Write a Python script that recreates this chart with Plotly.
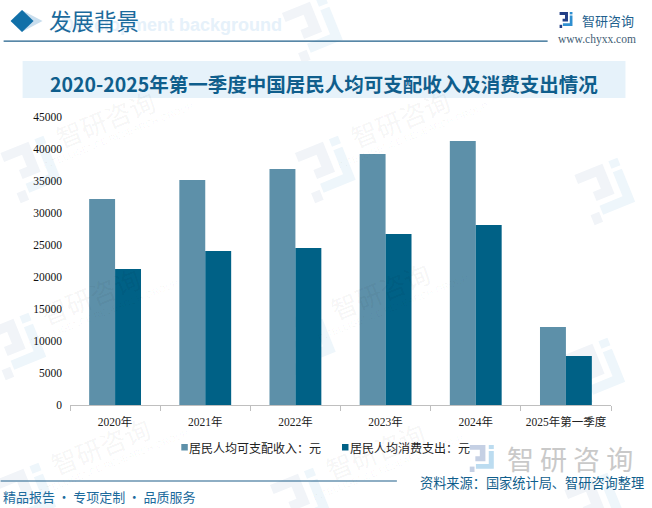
import math
import plotly.graph_objects as go

W, H = 652, 508
categories = ["2020年", "2021年", "2022年", "2023年", "2024年", "2025年第一季度"]
income = [32189, 35156, 36875, 39219, 41250, 12188]
spending = [21250, 24063, 24531, 26719, 28125, 7656]
series_names = ["居民人均可支配收入：元", "居民人均消费支出：元"]
series_colors = ["#5d90a9", "#006186"]
y_ticks = list(range(0, 45001, 5000))
title_text = "2020-2025年第一季度中国居民人均可支配收入及消费支出情况"
CJK = "Noto Sans CJK SC"
SERIF = "Liberation Serif, Noto Sans CJK SC"
L, R, T, B = 69.5, 611.5, 117, 405


def px(x):
    return (x - L) / (R - L)


def py(y):
    return (B - y) / (B - T)


shapes, annos = [], []


def rect(x0, y0, x1, y1, color, layer="below"):
    shapes.append(dict(type="rect", xref="paper", yref="paper", x0=px(x0), x1=px(x1),
                       y0=py(y0), y1=py(y1), fillcolor=color, line_width=0, layer=layer))


def poly(points, color, layer="below"):
    d = "M" + " L".join(f"{px(x):.5f},{py(y):.5f}" for x, y in points) + " Z"
    shapes.append(dict(type="path", xref="paper", yref="paper", path=d,
                       fillcolor=color, line_width=0, layer=layer))


def text(x, y, s, size, color, family=CJK, anchor="center", angle=0, bold=False):
    annos.append(dict(xref="paper", yref="paper", x=px(x), y=py(y), text=f"<b>{s}</b>" if bold else s,
                      showarrow=False, xanchor=anchor, yanchor="middle", textangle=angle,
                      font=dict(size=size, color=color, family=family), borderpad=0))


LOGO_A = [[(0, 0), (.56, 0), (.56, .60), (.20, .60), (.20, .42), (.36, .42), (.36, .18), (0, .18)],
          [(0, .80), (.17, .80), (.17, 1), (0, 1)]]
LOGO_B = [[(.68, 0), (.86, 0), (.86, .15), (.68, .15)],
          [(.68, .22), (.86, .22), (.86, .88), (.22, .88), (.22, .70), (.68, .70)]]


def logo(cx, cy, w, h, ca, cb, angle=0, layer="below"):
    t = math.radians(angle)

    def tr(p):
        x, y = (p[0] - .5) * w, (p[1] - .5) * h
        return (cx + x * math.cos(t) - y * math.sin(t), cy + x * math.sin(t) + y * math.cos(t))

    for part in LOGO_A:
        poly([tr(p) for p in part], ca, layer)
    for part in LOGO_B:
        poly([tr(p) for p in part], cb, layer)


# watermark tiles: translucent dark text stays faint over the white page and the bars
for lx, ly in [(35, 168), (317, 28), (330, 168), (610, 190), (20, 345), (310, 340),
               (600, 370), (30, 495), (305, 500), (600, 505)]:
    logo(lx, ly, 54, 54, "#f1f4f8", "#eef6fb", -22)
    if lx < 560 and ly > 60:
        text(lx + 70, ly - 50, "智研咨询", 26, "rgba(0,0,0,0.05)", angle=-22)
        text(lx + 83, ly - 33, "INTELLIGENCE RESEARCH GROUP", 9.5, "rgba(0,0,0,0.04)",
             family="Liberation Sans", angle=-22)

# header
poly([(21, 10), (42, 21), (21, 32), (10, 21)], "#c9deee")
poly([(21.5, 10), (33, 21), (21.5, 32), (10, 21)], "#1170a8")
text(283, 25, "Development background", 18, "#e6f1fa", family="Liberation Sans", anchor="right", bold=True)
text(47.5, 20, "发展背景", 22.5, "#1b6a9c", anchor="left")
rect(3, 40.6, 548, 41.8, "#1f5f8a")
logo(567.5, 20, 15, 16, "#223f86", "#2f8fd0", 0)
text(581.5, 20, "智研咨询", 13, "#1e5f8e", anchor="left")
text(597, 39, "www.chyxx.com", 11.5, "#3f6075", family="Liberation Serif")

# title band
rect(22, 61, 626, 98, "#e6f2fa")
text(323.5, 83.5, title_text, 19.5, "#0f5e8c", bold=True)

# legend
for mx, tx, name, color in zip([181, 342], [188, 349], series_names, series_colors):
    rect(mx, 444, mx + 6.5, 450.5, color)
    text(tx, 447, name, 12, "#222222", anchor="left")

# footer
rect(0, 480.5, 397, 481.5, "#1f5f8a")
text(1.5, 496, "精品报告\u2009·\u2009专项定制\u2009·\u2009品质服务", 13, "#1b6a9c", anchor="left")
logo(484, 458.5, 28, 27, "#c5d0e4", "#bcdcf0", 0, layer="above")
text(570, 458, "智 研 咨 询", 27, "#c9c9c9")
text(646, 482, "资料来源：国家统计局、智研咨询整理", 13.2, "#0f5e8c", anchor="right")

fig = go.Figure()
fig.add_bar(name=series_names[0], x=categories, y=income, marker=dict(color=series_colors[0], line_width=0))
fig.add_bar(name=series_names[1], x=categories, y=spending, marker=dict(color=series_colors[1], line_width=0))
fig.update_layout(
    width=W, height=H, autosize=False,
    margin=dict(l=L, r=W - R, t=T, b=H - B),
    paper_bgcolor="white", plot_bgcolor="rgba(0,0,0,0)",
    barmode="group", bargap=0.425, bargroupgap=0, showlegend=False,
    font=dict(family=SERIF, size=11.5, color="#222222"),
    shapes=shapes, annotations=annos,
    xaxis=dict(type="category", tickson="boundaries", ticks="outside", ticklen=5, tickcolor="#bfbfbf",
               showline=True, linecolor="#bfbfbf", linewidth=1, showgrid=False, ticklabelstandoff=6,
               tickfont=dict(size=11.5, family=SERIF, color="#222222")),
    yaxis=dict(range=[0, 45000], tickvals=y_ticks, ticks="", showline=False, showgrid=False, zeroline=False,
               tickformat="d", ticklabelstandoff=7,
               tickfont=dict(size=11.5, family="Liberation Serif", color="#111111")),
)
fig.write_html("out.html", config=dict(displayModeBar=False), post_script="document.body.style.margin='0';")
